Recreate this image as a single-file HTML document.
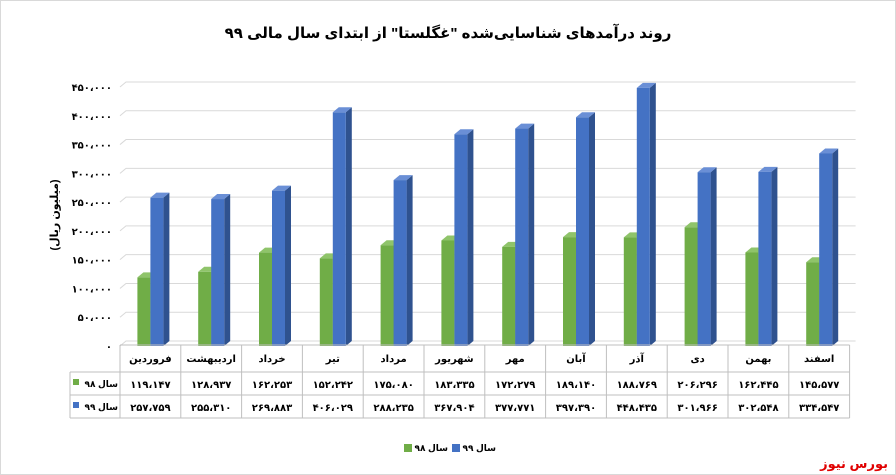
<!DOCTYPE html>
<html><head><meta charset="utf-8">
<style>
body{margin:0;background:#fff;}
#wrap{position:relative;width:896px;height:475px;}
svg{display:block;font-family:"Liberation Sans","DejaVu Sans",sans-serif;}
.lbl{position:absolute;font-family:"Liberation Sans","DejaVu Sans",sans-serif;font-weight:bold;direction:rtl;text-align:right;white-space:nowrap;line-height:12px;}
</style></head>
<body>
<div id="wrap">
<svg id="c" width="896" height="475">
<rect x="0.5" y="0.5" width="895" height="474" fill="#fff" stroke="#d9d9d9"/>
<text x="448" y="38" text-anchor="middle" font-size="15" font-weight="bold" fill="#000">روند درآمدهای شناسایی‌شده "غگلستا" از ابتدای سال مالی ۹۹</text>
<text transform="translate(58,215) rotate(-90)" text-anchor="middle" font-size="11" font-weight="bold">(میلیون ریال)</text>
<g id="grid"></g><g id="bars"></g><g id="table"></g>
<rect x="404" y="444" width="8" height="8" fill="#70ad47"/>
<rect x="452" y="444" width="8" height="8" fill="#4472c4"/>
<rect x="73" y="379" width="6" height="6" fill="#70ad47"/>
<rect x="73" y="402" width="6" height="6" fill="#4472c4"/>
<text x="888" y="468" text-anchor="end" font-size="13" font-weight="bold" fill="#e00000">بورس نیوز</text>
</svg>
<div class="lbl" style="left:414px;top:442px;width:34px;font-size:9px;">سال ۹۸</div>
<div class="lbl" style="left:462px;top:442px;width:34px;font-size:9px;">سال ۹۹</div>
<div class="lbl" style="left:82px;top:378px;width:36px;font-size:9px;">سال ۹۸</div>
<div class="lbl" style="left:82px;top:401px;width:36px;font-size:9px;">سال ۹۹</div>
</div>
<script>
const categories=["فروردین","اردیبهشت","خرداد","تیر","مرداد","شهریور","مهر","آبان","آذر","دی","بهمن","اسفند"];
const series98=[119147,128937,162253,152242,175080,183335,172279,189140,188769,206296,162445,145577];
const series99=[257759,255310,269883,406029,288235,367904,377771,397390,448435,301966,302548,334547];
const yTicks=[0,50000,100000,150000,200000,250000,300000,350000,400000,450000];
const NS="http://www.w3.org/2000/svg";
const x0=120,colW=60.8,y0=346,yTop=87,yMax=450000,dx=6,dy=5;
const fa=n=>String(n).replace(/\d/g,d=>"۰۱۲۳۴۵۶۷۸۹"[d]);
const fmt=n=>n===0?"۰":fa(n.toString().replace(/\B(?=(\d{3})+(?!\d))/g,"،"));
const Y=v=>y0-(v/yMax)*(y0-yTop);
function el(t,a,p){const e=document.createElementNS(NS,t);for(const k in a)e.setAttribute(k,a[k]);p.appendChild(e);return e;}
const g=document.getElementById('grid'),b=document.getElementById('bars'),tb=document.getElementById('table');
const xEnd=x0+colW*12;
yTicks.forEach(v=>{
 const y=Y(v);
 const l=el('polyline',{points:`${x0},${y} ${x0+dx},${y-dy} ${xEnd+dx},${y-dy}`,fill:'none',stroke:'#d9d9d9'},g);
 
 
 const t=el('text',{x:112,y:y+4,'text-anchor':'end','font-size':10,'font-weight':'bold'},g);
 t.textContent=fmt(v);
 
 
});
function bar(x,w,v,front,side,top,name){
 const y=Y(v);
 const s=el('polygon',{points:`${x+w},${y} ${x+w+dx},${y-dy} ${x+w+dx},${y0-dy} ${x+w},${y0}`,fill:side},b);
 
 const tp=el('polygon',{points:`${x},${y} ${x+dx},${y-dy} ${x+w+dx},${y-dy} ${x+w},${y}`,fill:top},b);
 
 const r=el('rect',{x:x,y:y,width:w,height:y0-y,fill:front},b);
 
}
categories.forEach((c,i)=>{
 const cx=x0+colW*i+colW/2;
 bar(cx-13,13,series98[i],'#70ad47','#507e32','#8fc46a','bar-98-'+i);
 bar(cx,13,series99[i],'#4472c4','#2f528f','#6a8fd6','bar-99-'+i);
});
const rows=[345,372,395,418];
const tl=70;
rows.forEach((y,k)=>{const l=el('line',{x1:k==0?x0:tl,y1:y,x2:xEnd,y2:y,stroke:'#bfbfbf'},tb);
 });
for(let i=0;i<=12;i++){const x=x0+colW*i;const l=el('line',{x1:x,y1:345,x2:x,y2:418,stroke:'#bfbfbf'},tb);
 }
const l0=el('line',{x1:tl,y1:372,x2:tl,y2:418,stroke:'#bfbfbf'},tb);

categories.forEach((c,i)=>{
 const cx=x0+colW*i+colW/2;
 const t=el('text',{x:cx,y:362,'text-anchor':'middle','font-size':10,'font-weight':'bold'},tb);t.textContent=c;
 
 const a=el('text',{x:cx,y:388,'text-anchor':'middle','font-size':10,'font-weight':'bold'},tb);a.textContent=fmt(series98[i]);
 
 const d=el('text',{x:cx,y:411,'text-anchor':'middle','font-size':10,'font-weight':'bold'},tb);d.textContent=fmt(series99[i]);
 
});
</script>
</body></html>
